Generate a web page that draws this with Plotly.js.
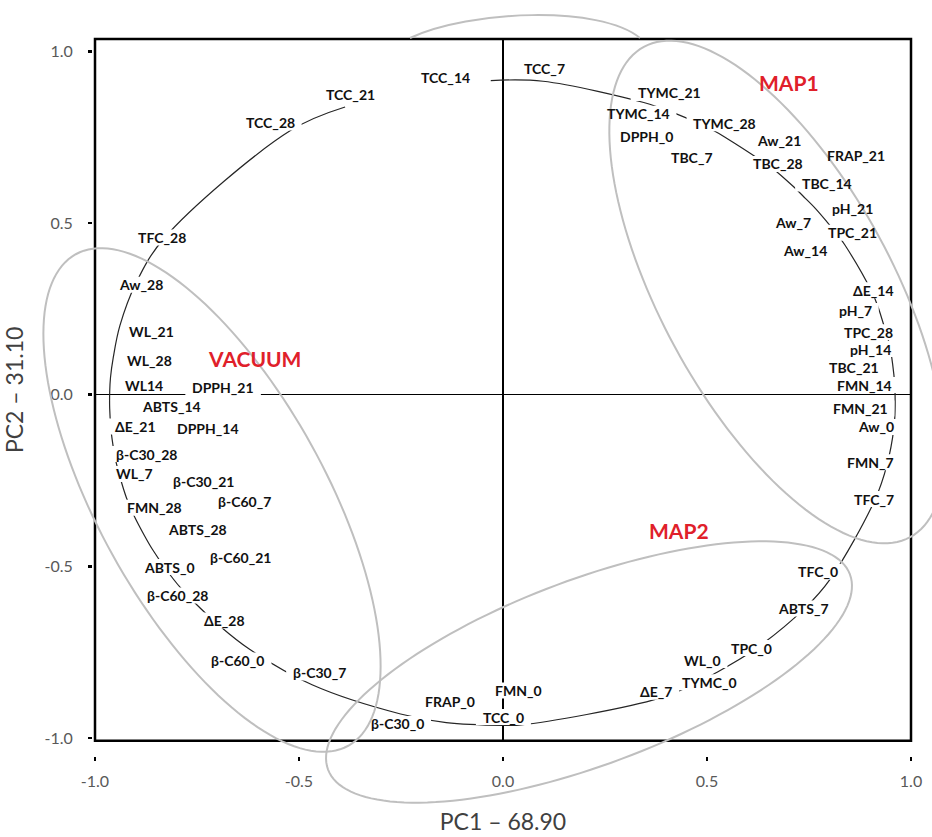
<!DOCTYPE html>
<html><head><meta charset="utf-8">
<script src="https://cdn.plot.ly/plotly-3.0.1.min.js"></script>
<style>html,body{margin:0;padding:0;background:#fff}</style>
</head><body>
<div id="chart" style="width:932px;height:837px"></div>
<script>
// ---- data: variable loadings (PC1, PC2), in order around the circle ----
const variables = ['TCC_14','TCC_7','TYMC_14','TYMC_21','DPPH_0','TBC_7','TYMC_28','Aw_21','TBC_28','FRAP_21',
  'TBC_14','Aw_7','pH_21','Aw_14','TPC_21','ΔE_14','pH_7','TPC_28','pH_14','TBC_21',
  'FMN_14','FMN_21','Aw_0','FMN_7','TFC_7','TFC_0','ABTS_7','TPC_0','WL_0','TYMC_0',
  'ΔE_7','FMN_0','TCC_0','FRAP_0','β-C30_0','β-C30_7','β-C60_0','ΔE_28','β-C60_21','β-C60_28',
  'ABTS_0','ABTS_28','β-C60_7','FMN_28','β-C30_21','WL_7','β-C30_28','DPPH_14','ΔE_21','ABTS_14',
  'DPPH_21','WL14','WL_28','WL_21','Aw_28','TFC_28','TCC_28','TCC_21'];
const pc1 = [-0.030, 0.098, 0.345, 0.386, 0.419, 0.517, 0.551, 0.628, 0.661, 0.711,
  0.741, 0.766, 0.795, 0.821, 0.838, 0.903, 0.918, 0.938, 0.947, 0.955,
  0.960, 0.961, 0.958, 0.941, 0.912, 0.802, 0.738, 0.615, 0.515, 0.499,
  0.384, 0.044, 0.002, -0.139, -0.251, -0.468, -0.622, -0.696, -0.758, -0.790,
  -0.827, -0.859, -0.879, -0.906, -0.923, -0.939, -0.950, -0.958, -0.961, -0.964,
  -0.964, -0.962, -0.955, -0.939, -0.900, -0.831, -0.520, -0.387];
const pc2 = [0.915, 0.913, 0.851, 0.835, 0.821, 0.769, 0.745, 0.686, 0.659, 0.607,
  0.572, 0.542, 0.502, 0.464, 0.436, 0.302, 0.260, 0.184, 0.147, 0.089,
  0.030, -0.044, -0.099, -0.205, -0.305, -0.537, -0.624, -0.744, -0.815, -0.825,
  -0.884, -0.962, -0.963, -0.955, -0.930, -0.845, -0.741, -0.672, -0.603, -0.563,
  -0.507, -0.451, -0.410, -0.348, -0.300, -0.239, -0.188, -0.130, -0.099, -0.040,
  0.008, 0.050, 0.110, 0.201, 0.324, 0.455, 0.770, 0.838];

const groupNames = ['MAP1', 'VACUUM', 'MAP2'];
const tickVals = [-1, -0.5, 0, 0.5, 1];
const tickLabels = ['-1.0', '-0.5', '0.0', '0.5', '1.0'];
const xTitle = 'PC1 – 68.90';
const yTitle = 'PC2 – 31.10';

// ---- layout: where each data label sits (axis units) ----
const labelX = [-0.141, 0.102, 0.331, 0.407, 0.352, 0.464, 0.544, 0.676, 0.674, 0.865,
  0.794, 0.711, 0.857, 0.740, 0.857, 0.909, 0.863, 0.897, 0.901, 0.860,
  0.885, 0.875, 0.913, 0.901, 0.909, 0.771, 0.737, 0.609, 0.488, 0.507,
  0.375, 0.039, 0.001, -0.130, -0.259, -0.449, -0.650, -0.683, -0.643, -0.799,
  -0.817, -0.749, -0.634, -0.854, -0.735, -0.904, -0.874, -0.724, -0.901, -0.813,
  -0.686, -0.879, -0.866, -0.862, -0.888, -0.836, -0.571, -0.373];
const labelY = [0.925, 0.950, 0.818, 0.879, 0.752, 0.692, 0.791, 0.739, 0.672, 0.698,
  0.615, 0.503, 0.541, 0.419, 0.472, 0.304, 0.244, 0.182, 0.133, 0.079,
  0.028, -0.040, -0.094, -0.197, -0.304, -0.516, -0.623, -0.738, -0.773, -0.838,
  -0.865, -0.862, -0.939, -0.895, -0.959, -0.809, -0.774, -0.658, -0.474, -0.585,
  -0.502, -0.394, -0.310, -0.329, -0.253, -0.231, -0.173, -0.098, -0.093, -0.034,
  0.021, 0.028, 0.101, 0.184, 0.320, 0.458, 0.793, 0.873];
const groupLabelX = [0.701, -0.609, 0.431];
const groupLabelY = [0.909, 0.104, -0.396];
// group ellipses in page pixels: centre x, centre y, semi-axes, tilt (deg, y down)
const groupEllipses = [
  [777, 292, 279, 116, 61.5],
  [212, 500, 281, 113.6, 61],
  [589, 672, 278.6, 92.8, -20.5]
];

const LABEL_FONT = 'Lato, "DejaVu Sans", sans-serif';

function draw() {
  const plotL = 92, plotT = 39, W = 819, H = 717;
  const toPaper = (px, py) => [(px - plotL) / W, (plotT + H - py) / H];
  function ellipsePath(cx, cy, a, b, deg) {
    const p = deg * Math.PI / 180;
    let s = '';
    for (let i = 0; i <= 160; i++) {
      const t = i / 160 * 2 * Math.PI;
      const x = cx + a * Math.cos(t) * Math.cos(p) - b * Math.sin(t) * Math.sin(p);
      const y = cy + a * Math.cos(t) * Math.sin(p) + b * Math.sin(t) * Math.cos(p);
      const q = toPaper(x, y);
      s += (i ? 'L' : 'M') + q[0].toFixed(5) + ',' + q[1].toFixed(5);
    }
    return s + 'Z';
  }
  function arcPath(pts) {
    const q = pts.map(p => toPaper(p[0], p[1]));
    return 'M' + q[0].join(',') + ' C' + q[1].join(',') + ' ' + q[2].join(',') + ' ' + q[3].join(',');
  }

  const canvas = document.createElement('canvas');
  const ctx = canvas.getContext('2d');
  ctx.font = 'bold 14px ' + LABEL_FONT;

  const shapes = [];
  shapes.push({type: 'rect', xref: 'x domain', yref: 'y domain', x0: 0, x1: 1, y0: 0, y1: 1,
    line: {color: '#000', width: 2.5}, fillcolor: 'rgba(0,0,0,0)', layer: 'above'});
  // white boxes behind each data label (hide the curve like the original labels)
  variables.forEach((v, i) => {
    const w = ctx.measureText(v).width;
    shapes.push({type: 'rect', xref: 'x', yref: 'y', xsizemode: 'pixel', ysizemode: 'pixel',
      xanchor: labelX[i], yanchor: labelY[i], x0: -w / 2 - 7, x1: w / 2 + 7, y0: -8, y1: 8,
      fillcolor: '#ffffff', line: {width: 0}, layer: 'above'});
  });
  groupEllipses.forEach(e => {
    shapes.push({type: 'path', xref: 'paper', yref: 'paper', path: ellipsePath(...e),
      line: {color: '#bfbfbf', width: 2}, fillcolor: 'rgba(0,0,0,0)', layer: 'above'});
  });
  shapes.push({type: 'path', xref: 'paper', yref: 'paper',
    path: arcPath([[410, 38], [470, 10], [600, 5], [640, 38]]),
    line: {color: '#bfbfbf', width: 2}, fillcolor: 'rgba(0,0,0,0)', layer: 'above'});

  const annotations = variables.map((v, i) => ({
    x: labelX[i], y: labelY[i], xref: 'x', yref: 'y', text: '<b>' + v + '</b>', showarrow: false,
    xanchor: 'center', yanchor: 'middle', font: {family: LABEL_FONT, size: 14, color: '#111'}
  }));
  groupNames.forEach((g, i) => annotations.push({
    x: groupLabelX[i], y: groupLabelY[i], xref: 'x', yref: 'y', text: '<b>' + g + '</b>', showarrow: false,
    xanchor: 'center', yanchor: 'middle', font: {family: LABEL_FONT, size: 21, color: '#e0202a'}
  }));

  const trace = {
    x: pc1, y: pc2, type: 'scatter', mode: 'lines',
    line: {color: '#262626', width: 1.2, shape: 'spline', smoothing: 1},
    hoverinfo: 'skip', showlegend: false
  };

  const axisCommon = {
    tickvals: tickVals, ticktext: tickLabels, ticks: 'outside', ticklen: 4, tickwidth: 2.5,
    tickcolor: '#000', showgrid: false, showline: false, zeroline: true,
    zerolinecolor: '#000', zerolinewidth: 1.3,
    tickfont: {family: 'Lato, sans-serif', size: 16, color: '#595959'},
    anchor: 'free', position: 0, fixedrange: true
  };

  const layout = {
    width: 932, height: 837,
    margin: {l: plotL, r: 932 - plotL - W, t: plotT, b: 837 - plotT - H},
    paper_bgcolor: '#fff', plot_bgcolor: '#fff',
    showlegend: false,
    xaxis: Object.assign({}, axisCommon, {
      domain: [3 / W, 1], range: [-1, 1], ticklabelstandoff: 7,
      title: {text: xTitle, font: {family: 'Lato, sans-serif', size: 23, color: '#404040'}, standoff: 24}
    }),
    yaxis: Object.assign({}, axisCommon, {
      domain: [15.3 / H, 1], range: [-1.0079, 1.0361], ticklabelstandoff: 12,
      title: {text: yTitle, font: {family: 'Lato, sans-serif', size: 23, color: '#404040'}, standoff: 14}
    }),
    shapes: shapes,
    annotations: annotations
  };

  Plotly.newPlot('chart', [trace], layout, {displayModeBar: false, staticPlot: true});
}

if (document.fonts && document.fonts.load) {
  Promise.all([document.fonts.load('bold 14px Lato'), document.fonts.load('16px Lato')])
    .then(draw, draw);
} else { draw(); }
</script>
</body></html>
